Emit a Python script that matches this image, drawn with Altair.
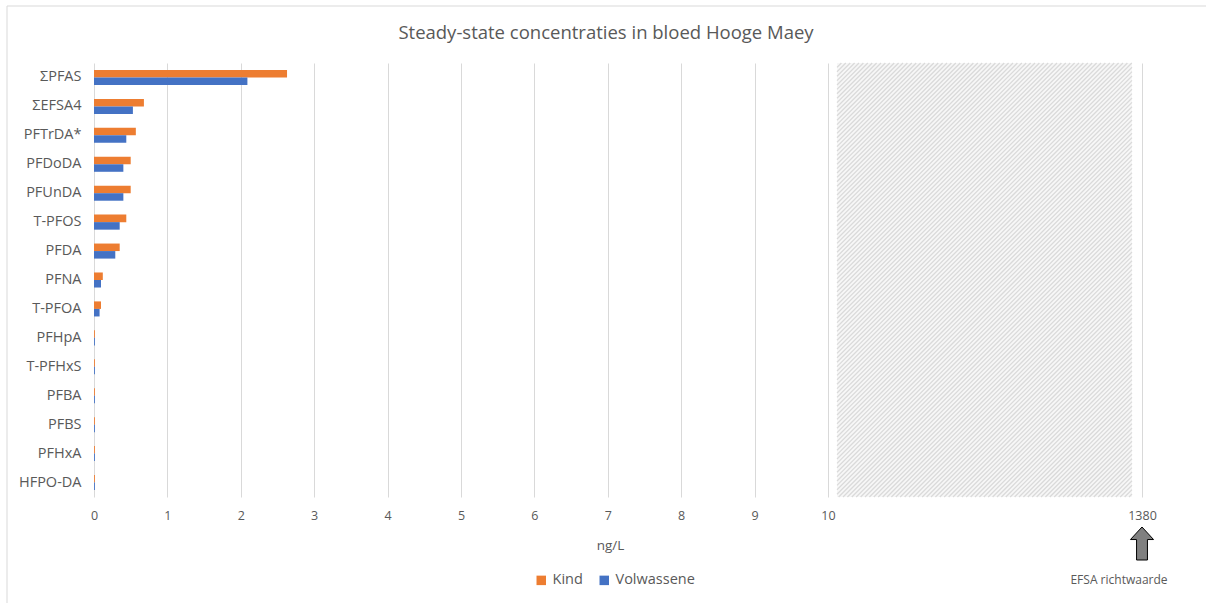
import altair as alt
import pandas as pd

# Compounds, top to bottom
compounds = ["ΣPFAS", "ΣEFSA4", "PFTrDA*", "PFDoDA", "PFUnDA", "T-PFOS", "PFDA",
             "PFNA", "T-PFOA", "PFHpA", "T-PFHxS", "PFBA", "PFBS", "PFHxA", "HFPO-DA"]
# Steady-state blood concentrations (ng/L)
kind = [2.63, 0.68, 0.57, 0.50, 0.50, 0.44, 0.35, 0.12, 0.095, 0.012, 0.012, 0.012, 0.012, 0.012, 0.012]
volwassene = [2.09, 0.53, 0.44, 0.40, 0.40, 0.35, 0.29, 0.095, 0.076, 0.012, 0.012, 0.012, 0.012, 0.012, 0.012]
groups = ["Kind", "Volwassene"]
colors = ["#ED7D31", "#4472C4"]

# Broken x axis: 0-10 linear, then a jump to the EFSA guideline value
tick_values = [0, 1, 2, 3, 4, 5, 6, 7, 8, 9, 10, 1380]
efsa_value = 1380

title_text = "Steady-state concentraties in bloed Hooge Maey"

W, H = 1048, 434
FONT = "Open Sans"
GREY = "#595959"

rows = []
for c, k, v in zip(compounds, kind, volwassene):
    rows.append({"compound": c, "group": "Kind", "value": k})
    rows.append({"compound": c, "group": "Volwassene", "value": v})
df = pd.DataFrame(rows)

xscale = alt.Scale(domain=[0, 10, efsa_value], range=[0, 734, W], nice=False, zero=False)

bars = alt.Chart(df).mark_bar().encode(
    y=alt.Y("compound:N", sort=compounds,
            scale=alt.Scale(paddingInner=0.48, paddingOuter=0.24),
            axis=alt.Axis(title=None, domain=False, ticks=False, grid=False,
                          labelFontSize=14.5, labelColor=GREY, labelFont=FONT,
                          labelPadding=13)),
    yOffset=alt.YOffset("group:N", sort=groups,
                        scale=alt.Scale(paddingInner=0, paddingOuter=0)),
    x=alt.X("value:Q", scale=xscale,
            axis=alt.Axis(values=tick_values, format="d", title="ng/L", domain=False,
                          ticks=False, grid=True, gridColor="#d9d9d9", gridWidth=1,
                          labelFontSize=12.5, labelColor=GREY, labelFont=FONT,
                          labelPadding=12, labelFlush=False,
                          titleFontSize=13.5, titleColor=GREY, titleFont=FONT,
                          titleFontWeight="normal", titleX=516, titleY=48,
                          titleBaseline="middle")),
    color=alt.Color("group:N", sort=groups,
                    scale=alt.Scale(domain=groups, range=colors),
                    legend=alt.Legend(title=None, orient="none", direction="horizontal",
                                      legendX=440, legendY=510, symbolType="square",
                                      symbolSize=90, symbolStrokeWidth=0,
                                      labelFontSize=14.5, labelColor=GREY, labelFont=FONT,
                                      columnPadding=14, labelOffset=4)),
)

# Block arrow pointing at the EFSA guideline tick
arrow_shape = "M-0.33,1L-0.33,-0.24L-0.7,-0.24L0,-1L0.7,-0.24L0.33,-0.24L0.33,1Z"
marker_df = pd.DataFrame({"value": [efsa_value], "label": ["EFSA richtwaarde"]})
arrow = alt.Chart(marker_df).mark_point(
    shape=arrow_shape, size=1089, filled=True, fill="#808080",
    stroke="#000000", strokeWidth=1, opacity=1
).encode(x=alt.X("value:Q", scale=xscale), y=alt.value(480.5))

arrow_text = alt.Chart(marker_df).mark_text(
    fontSize=12, color=GREY, font=FONT, dx=-23, baseline="middle"
).encode(x=alt.X("value:Q", scale=xscale), y=alt.value(517), text="label:N")

# Chart title, placed as text above the plot
title = alt.Chart(pd.DataFrame({"t": [title_text]})).mark_text(
    fontSize=18.5, color=GREY, font=FONT, baseline="middle", align="center"
).encode(x=alt.value(512), y=alt.value(-30), text="t:N")

# Outer chart border
frame = alt.Chart(alt.Data(values=[{}])).mark_rect(
    fillOpacity=0, stroke="#d9d9d9", strokeWidth=1
).encode(x=alt.value(-87), x2=alt.value(1300), y=alt.value(-57), y2=alt.value(700))

main = alt.layer(bars, arrow, arrow_text, title, frame)

# Hatched band marking the axis break
band_x0, band_x1 = 743, 1038
step = 4.4
hatch_rows = []
c = band_x0
while c < band_x1 + H:
    xa = max(band_x0, c - H)
    xb = min(band_x1, c)
    if xb > xa:
        hatch_rows.append({"hx": xa, "hy": c - xa, "hx2": xb, "hy2": c - xb})
    c += step
hatch_df = pd.DataFrame(hatch_rows)

px_x = alt.Scale(domain=[0, W], range=[0, W], nice=False, zero=False)
px_y = alt.Scale(domain=[0, H], range=[0, H], nice=False, zero=False)

band_bg = alt.Chart(pd.DataFrame({"hx": [band_x0], "hx2": [band_x1], "hy": [0], "hy2": [H]})).mark_rect(
    fill="#f7f7f7"
).encode(
    x=alt.X("hx:Q", scale=px_x, axis=None), x2="hx2:Q",
    y=alt.Y("hy:Q", scale=px_y, axis=None), y2="hy2:Q",
)
band_lines = alt.Chart(hatch_df).mark_rule(color="#dadada", strokeWidth=1.3).encode(
    x=alt.X("hx:Q", scale=px_x, axis=None), x2="hx2:Q",
    y=alt.Y("hy:Q", scale=px_y, axis=None), y2="hy2:Q",
)
hatch = alt.layer(band_bg, band_lines)

chart = alt.layer(hatch, main).resolve_scale(
    x="independent", y="independent"
).properties(
    width=W, height=H,
    autosize=alt.AutoSizeParams(type="none"),
    padding={"left": 94, "top": 63, "right": 64, "bottom": 106},
    view=alt.ViewBackground(stroke="transparent", strokeWidth=0),
).configure_view(stroke="transparent", strokeWidth=0).configure(background="white")

chart.save("out.html", embed_options={"renderer": "svg", "actions": False})
